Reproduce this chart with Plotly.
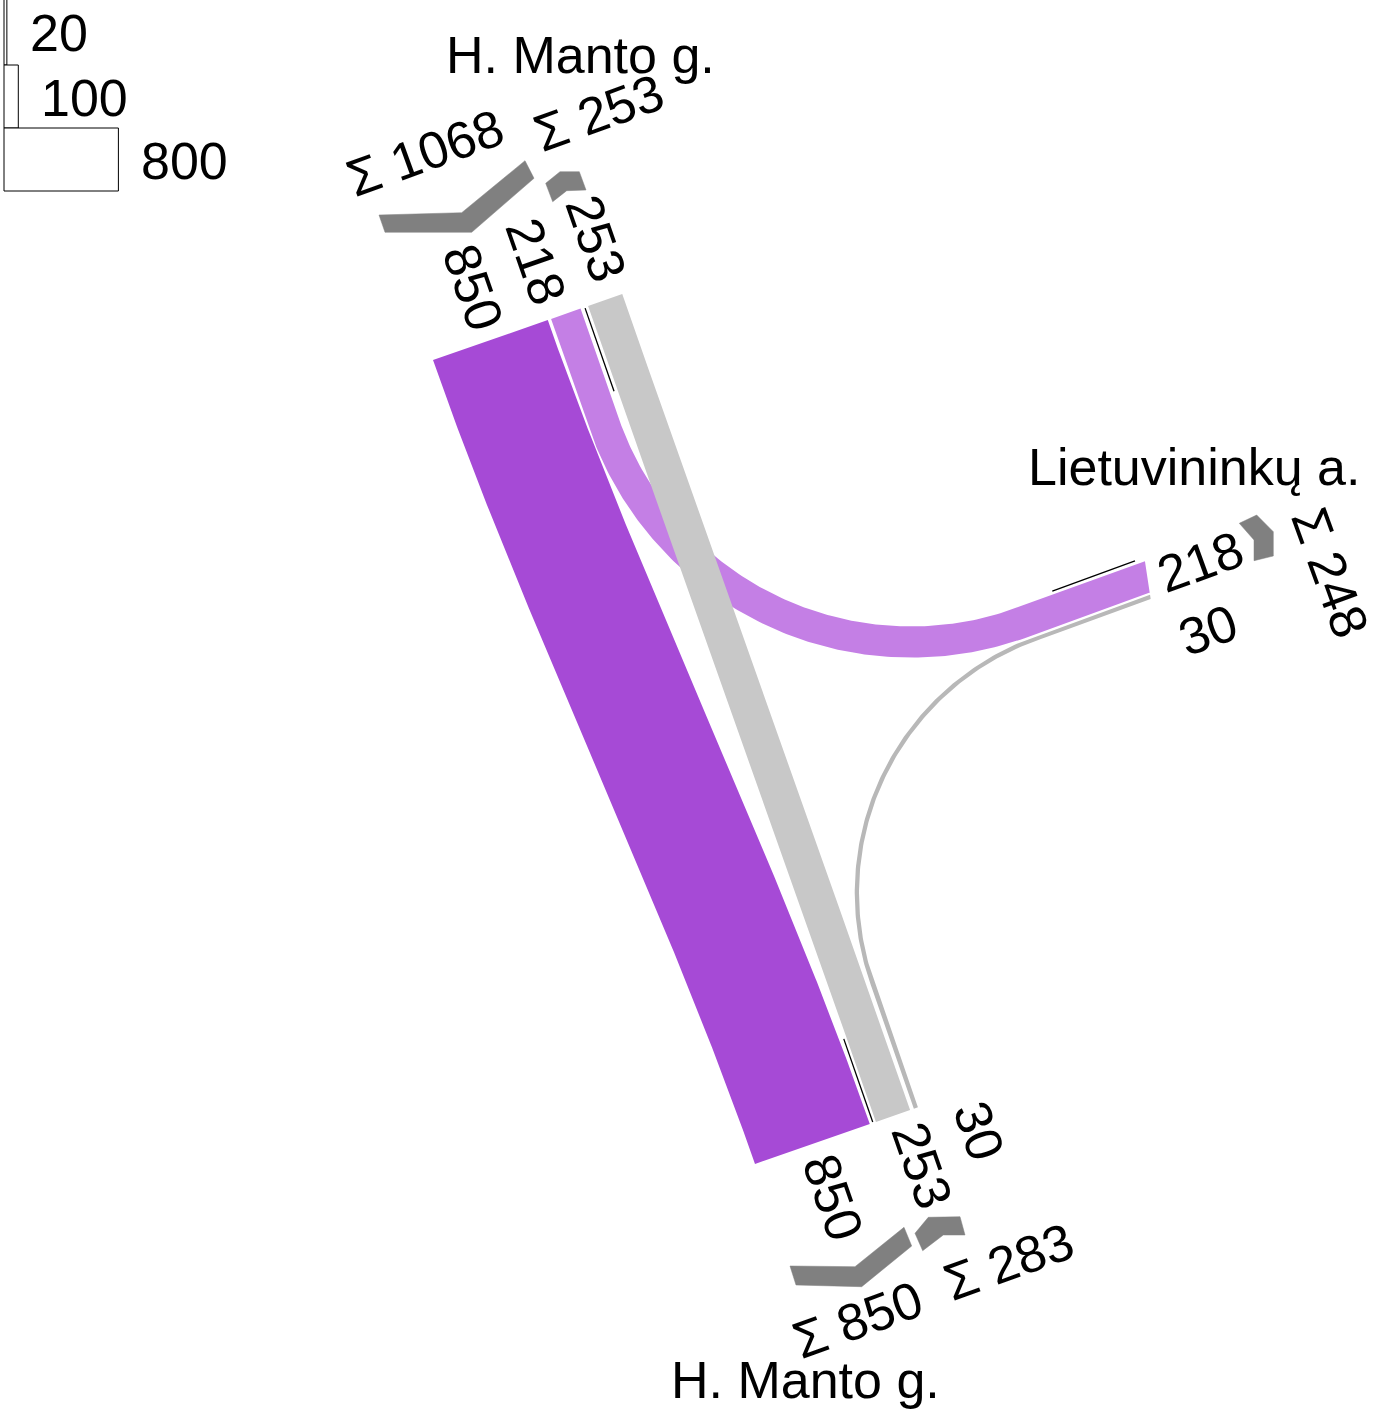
import numpy as np
import plotly.graph_objects as go

# ---------------- data ----------------
ARM_NAMES = {"N": "H. Manto g.", "E": "Lietuvininkų a.", "S": "H. Manto g."}
FLOW_FROM = ["N", "N", "S", "S"]
FLOW_TO = ["S", "E", "N", "E"]
FLOW_VALUES = [850, 218, 253, 30]
FLOW_COLORS = ["#a64ad6", "#c47fe5", "#c8c8c8", "#b8b8b8"]
LEGEND_VALUES = [20, 100, 800]

# ---------------- geometry / style ----------------
W, H = 1388, 1409
K = 0.143            # px per vehicle
FONT = dict(family="Liberation Sans, Arial, sans-serif", size=52, color="black")


def vec(deg):
    r = np.radians(deg)
    return np.array([np.cos(r), np.sin(r)])


N_DIR = vec(70.8)    # road axis north -> south (screen coords, y down)
U_DIR = vec(-19.2)   # across the north/south road
E_OUT = vec(-20.0)   # travel direction leaving to the east
E_CUT = vec(81.4)    # end cut of east arm

ORIGIN = {"N": np.array([433.0, 360.0]), "S": np.array([755.0, 1164.0]),
          "E": np.array([1145.0, 561.5])}
CUT = {"N": U_DIR, "S": U_DIR, "E": E_CUT}
SLOTS = {"N": [(0, 0), (1, 3.5), (2, 8)],
         "S": [(0, 0), (2, 6.5), (3, 4)],
         "E": [(1, 0), (3, 2.5)]}
DEPART = {"N": N_DIR, "S": -N_DIR, "E": -E_OUT}   # direction entering the junction
FLOW_SHAPE = [("bezier", 285), ("fillet", 325), ("bezier", 280), ("fillet", 270)]
DRAW_ORDER = [0, 1, 2, 3]

DIVIDERS = [("N", 160.7, 1, 88), ("S", 125.0, 1, 88), ("E", -4.0, 10, 88)]

ICON_POLYS = [
    [(379, 215), (461.7, 212.7), (525, 160.7), (534, 178.3), (471.7, 232.3), (385, 232.3)],
    [(545.7, 183.3), (560, 171.7), (579.3, 171.7), (586, 190), (566.7, 190.7), (552.7, 201.7)],
    [(1239.3, 523.3), (1256.7, 515), (1273.3, 531.7), (1273.3, 556), (1254, 560.7), (1254, 540)],
    [(790, 1266), (855, 1266.7), (904, 1227.3), (911.7, 1246), (861.7, 1286.7), (796, 1285)],
    [(915, 1233.3), (928.3, 1217.3), (960, 1216.7), (965, 1235), (943.3, 1235), (922.7, 1250.7)],
]

# label placements (centre, angle)
FLOW_LABEL_POS = {("N", 0): (473, 287), ("N", 1): (536, 261), ("N", 2): (596, 238),
                  ("S", 0): (833, 1197), ("S", 2): (922, 1165), ("S", 3): (979, 1131),
                  ("E", 1): (1200, 562), ("E", 3): (1208, 630)}
LABEL_ANGLE = {"N": 70.8, "S": 70.8, "E": -20.0}
SUM_LABELS = [("N", "out", (425, 153), -20), ("N", "in", (598, 113), -20),
              ("E", "all", (1330, 572), 70), ("S", "in", (857, 1320), -20),
              ("S", "out", (1008, 1262), -20)]
ARM_LABEL_POS = {"N": (580, 55), "E": (1194, 467), "S": (805, 1380)}
LEGEND_X0, LEGEND_ROWS, LEGEND_GAP = 4, [(-2, 65), (65, 128), (128, 191)], 21


# ---------------- helpers ----------------
def cross(a, b):
    return a[0] * b[1] - a[1] * b[0]


def seg(p, q, n):
    t = np.linspace(0, 1, n, endpoint=False)[:, None]
    return p + (q - p) * t


def fillet_path(p0, d0, p3, d3, R):
    A = np.array([[d0[0], -d3[0]], [d0[1], -d3[1]]])
    s, _ = np.linalg.solve(A, p3 - p0)
    C = p0 + s * d0
    th = np.arccos(np.clip(np.dot(d0, d3), -1, 1))
    tl = R * np.tan(th / 2)
    T0, T1 = C - d0 * tl, C + d3 * tl
    sg = np.sign(cross(d0, d3))
    O = T0 + np.array([-d0[1], d0[0]]) * sg * R
    a0 = np.arctan2(T0[1] - O[1], T0[0] - O[0])
    ang = np.linspace(a0, a0 + sg * th, 140, endpoint=False)
    arc = O + R * np.stack([np.cos(ang), np.sin(ang)], 1)
    n1 = max(int(np.linalg.norm(T0 - p0) / 3), 2)
    n2 = max(int(np.linalg.norm(p3 - T1) / 3), 2)
    return np.vstack([seg(p0, T0, n1), arc, seg(T1, p3, n2), p3[None]])


def bezier_path(p0, d0, p3, d3, L):
    p1, p2 = p0 + d0 * L, p3 - d3 * L
    t = np.linspace(0, 1, 300)[:, None]
    return ((1 - t) ** 3) * p0 + 3 * ((1 - t) ** 2) * t * p1 + 3 * (1 - t) * t * t * p2 + t ** 3 * p3


def band(pts, w, c0, c1):
    tg = np.gradient(pts, axis=0)
    tg /= np.linalg.norm(tg, axis=1)[:, None]
    nr = np.stack([-tg[:, 1], tg[:, 0]], 1)
    left = pts + nr * w / 2
    right = pts - nr * w / 2
    for idx, c in ((0, c0), (-1, c1)):
        T, Nn = tg[idx], nr[idx]
        for arr, a in ((left, w / 2), (right, -w / 2)):
            s = -a * cross(Nn, c) / cross(T, c)
            arr[idx] = pts[idx] + a * Nn + s * T
    return np.vstack([left, right[::-1], left[:1]])


# slot centres
slot_center = {}
for arm, slots in SLOTS.items():
    pos = 0.0
    for fi, gap in slots:
        w = FLOW_VALUES[fi] * K
        pos += gap
        slot_center[(arm, fi)] = ORIGIN[arm] + CUT[arm] * (pos + w / 2)
        pos += w

fig = go.Figure()

for fi in DRAW_ORDER:
    a, b = FLOW_FROM[fi], FLOW_TO[fi]
    p0, p3 = slot_center[(a, fi)], slot_center[(b, fi)]
    d0, d3 = DEPART[a], -DEPART[b]
    kind, par = FLOW_SHAPE[fi]
    pts = fillet_path(p0, d0, p3, d3, par) if kind == "fillet" else bezier_path(p0, d0, p3, d3, par)
    poly = band(pts, FLOW_VALUES[fi] * K, CUT[a], CUT[b])
    fig.add_trace(go.Scatter(x=poly[:, 0], y=poly[:, 1], mode="lines", fill="toself",
                             fillcolor=FLOW_COLORS[fi], line=dict(width=0, color=FLOW_COLORS[fi]),
                             hoverinfo="skip", showlegend=False))

for arm, off, s0, ln in DIVIDERS:
    p = ORIGIN[arm] + CUT[arm] * off
    q0, q1 = p + DEPART[arm] * s0, p + DEPART[arm] * (s0 + ln)
    fig.add_trace(go.Scatter(x=[q0[0], q1[0]], y=[q0[1], q1[1]], mode="lines",
                             line=dict(color="black", width=1.3), hoverinfo="skip", showlegend=False))

for poly in ICON_POLYS:
    xs = [p[0] for p in poly] + [poly[0][0]]
    ys = [p[1] for p in poly] + [poly[0][1]]
    fig.add_trace(go.Scatter(x=xs, y=ys, mode="lines", fill="toself", fillcolor="#808080",
                             line=dict(width=0.5, color="#808080"), hoverinfo="skip", showlegend=False))

# legend boxes
for v, (y0, y1) in zip(LEGEND_VALUES, LEGEND_ROWS):
    x1 = LEGEND_X0 + v * K
    fig.add_trace(go.Scatter(x=[LEGEND_X0, x1, x1, LEGEND_X0, LEGEND_X0], y=[y0, y0, y1, y1, y0],
                             mode="lines", fill="toself", fillcolor="white",
                             line=dict(color="black", width=1), hoverinfo="skip", showlegend=False))
    fig.add_annotation(x=x1 + LEGEND_GAP, y=(y0 + y1) / 2 + 1, text=str(v), showarrow=False,
                       xanchor="left", yanchor="middle", font=FONT)

# flow value labels
for (arm, fi), (x, y) in FLOW_LABEL_POS.items():
    fig.add_annotation(x=x, y=y, text=str(FLOW_VALUES[fi]), textangle=LABEL_ANGLE[arm],
                       showarrow=False, xanchor="center", yanchor="middle", font=FONT)


# sums
def arm_sum(arm, kind):
    tot = 0
    for fi, v in enumerate(FLOW_VALUES):
        if kind in ("out", "all") and FLOW_FROM[fi] == arm:
            tot += v
        if kind in ("in", "all") and FLOW_TO[fi] == arm:
            tot += v
    return tot


for arm, kind, (x, y), ang in SUM_LABELS:
    fig.add_annotation(x=x, y=y, text="Σ " + str(arm_sum(arm, kind)), textangle=ang,
                       showarrow=False, xanchor="center", yanchor="middle", font=FONT)

for arm, (x, y) in ARM_LABEL_POS.items():
    fig.add_annotation(x=x, y=y, text=ARM_NAMES[arm], showarrow=False,
                       xanchor="center", yanchor="middle", font=FONT)

fig.update_layout(width=W, height=H, margin=dict(l=0, r=0, t=0, b=0),
                  paper_bgcolor="white", plot_bgcolor="white", showlegend=False,
                  xaxis=dict(range=[0, W], visible=False, fixedrange=True),
                  yaxis=dict(range=[H, 0], visible=False, fixedrange=True))
fig.write_html("out.html", config={"displayModeBar": False, "staticPlot": True},
               post_script="document.body.style.margin='0px';document.body.style.overflow='hidden';")
